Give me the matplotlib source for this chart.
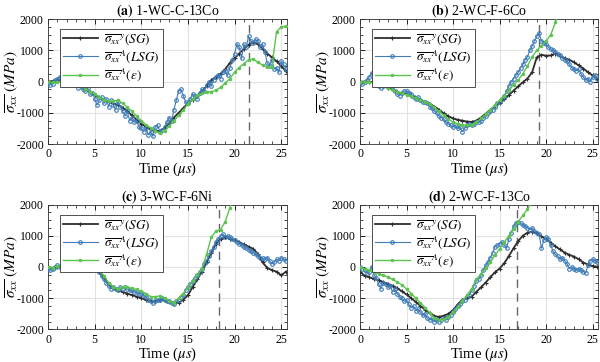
import numpy as np
import matplotlib
matplotlib.use("Agg")
import matplotlib.pyplot as plt
from matplotlib.ticker import MultipleLocator

plt.rcParams.update({
    "font.family": "serif",
    "font.serif": ["Liberation Serif", "DejaVu Serif"],
    "mathtext.fontset": "stix",
    "axes.unicode_minus": False,
    "font.size": 9,
})

# sampling times (us)
T_HALF = [0.0, 0.5, 1.0, 1.5, 2.0, 2.5, 3.0, 3.5, 4.0, 4.5, 5.0, 5.5, 6.0, 6.5,
          7.0, 7.5, 8.0, 8.5, 9.0, 9.5, 10.0, 10.5, 11.0, 11.5, 12.0, 12.5,
          13.0, 13.5, 14.0, 14.5, 15.0, 15.5, 16.0, 16.5, 17.0, 17.5, 18.0,
          18.5, 19.0, 19.5, 20.0, 20.5, 21.0, 21.5, 22.0, 22.5, 23.0, 23.5,
          24.0, 24.5, 25.0, 25.5]
T_QUARTER = [0.0, 0.25, 0.5, 0.75, 1.0, 1.25, 1.5, 1.75, 2.0, 2.25, 2.5, 2.75,
             3.0, 3.25, 3.5, 3.75, 4.0, 4.25, 4.5, 4.75, 5.0, 5.25, 5.5, 5.75,
             6.0, 6.25, 6.5, 6.75, 7.0, 7.25, 7.5, 7.75, 8.0, 8.25, 8.5, 8.75,
             9.0, 9.25, 9.5, 9.75, 10.0, 10.25, 10.5, 10.75, 11.0, 11.25, 11.5,
             11.75, 12.0, 12.25, 12.5, 12.75, 13.0, 13.25, 13.5, 13.75, 14.0,
             14.25, 14.5, 14.75, 15.0, 15.25, 15.5, 15.75, 16.0, 16.25, 16.5,
             16.75, 17.0, 17.25, 17.5, 17.75, 18.0, 18.25, 18.5, 18.75, 19.0,
             19.25, 19.5, 19.75, 20.0, 20.25, 20.5, 20.75, 21.0, 21.25, 21.5,
             21.75, 22.0, 22.25, 22.5, 22.75, 23.0, 23.25, 23.5, 23.75, 24.0,
             24.25, 24.5, 24.75, 25.0, 25.25, 25.5]

# (a) 1-WC-C-13Co
BLACK_A = [0, 20, 40, 50, 40, 0, -60, -150, -250, -330, -420, -500, -580, -650,
           -700, -750, -830, -950, -1080, -1220, -1350, -1450, -1530, -1570,
           -1580, -1480, -1330, -1150, -1000, -850, -700, -580, -450, -300,
           -150, 50, 150, 250, 400, 600, 750, 900, 1050, 1180, 1260, 1200,
           1050, 900, 780, 650, 500, 330]
GREEN_A = [0, -20, -20, 0, -10, -30, -80, -150, -230, -320, -400, -500, -580,
           -630, -620, -600, -700, -820, -950, -1100, -1250, -1380, -1480,
           -1580, -1650, -1580, -1420, -1250, -1080, -900, -720, -560, -440,
           -380, -330, -320, -280, -180, -50, 100, 300, 450, 580, 700, 720,
           620, 530, 460, 480, 1600, 1750, 1780]
BLUE_A = [-50, -100, -80, 50, 100, 150, 50, -100, 100, 180, 120, 50,
          -100, -200, -100, -250, -300, -200, -400, -350, -550, -750, -600, -500,
          -700, -550, -800, -600, -750, -900, -650, -800, -950, -1100, -950, -1250,
          -1150, -1300, -1250, -1450, -1500, -1600, -1500, -1700,
          -1600, -1750, -1450, -1400, -1600, -1550, -1450, -1300,
          -1150, -1250, -900, -600, -300, -250, -450, -650, -700, -550, -400, -450,
          -550, -350, -250, -300, -100, 0, -150, 50, 150, 200, 100, 300,
          350, 200, 450, 700, 900, 1200, 1100, 750, 1200, 1100, 1450, 1300,
          1250, 1350, 1300, 1100, 1200, 950, 600, 500, 700, 400, 450, 300,
          650, 550, 400]

# (b) 2-WC-F-6Co
BLACK_B = [0, 0, 0, -20, -60, -120, -190, -260, -330, -370, -400, -450, -510,
           -580, -650, -720, -800, -900, -1020, -1110, -1180, -1220, -1250,
           -1280, -1290, -1250, -1150, -1030, -900, -780, -680, -570, -430,
           -290, -150, -20, 100, 300, 780, 860, 830, 840, 900, 820, 750, 700,
           620, 520, 420, 300, 200, 100]
GREEN_B = [0, -20, 0, -60, -100, -150, -200, -270, -330, -380, -420, -470,
           -520, -580, -640, -720, -820, -950, -1080, -1200, -1300, -1350,
           -1380, -1400, -1380, -1300, -1180, -1050, -900, -750, -600, -450,
           -280, -100, 50, 250, 500, 800, 1000, 1150, 1300, 1500, 1900, 2300]
BLUE_B = [-50, -80, -20, 50, 150, 280, 150, -50, -150, -200, -150, -50,
          50, -50, -150, -300, -400, -450, -350, -300, -300, -350, -400, -500,
          -550, -500, -600, -650, -650, -700, -800, -850, -950, -1000, -1100, -1150,
          -1200, -1300, -1350, -1400, -1450, -1400, -1500, -1450,
          -1600, -1500, -1400, -1350, -1400, -1350, -1300, -1300,
          -1250, -1150, -1100, -1000, -950, -900, -800, -700, -650, -550, -450, -300,
          -150, 0, 100, 200, 300, 450, 550, 700, 800, 1000, 1150, 1300,
          1450, 1550, 1300, 1250, 1200, 1100, 1050, 1000, 950, 900, 850, 750,
          700, 650, 550, 450, 400, 350, 400, 250, 150, 50, 100, 0,
          150, 200, 100]

# (c) 3-WC-F-6Ni
BLACK_C = [0, -30, 0, 30, 20, 10, 20, 10, 20, 30, 20, -150, -350, -550, -680,
           -750, -800, -850, -900, -950, -1000, -1050, -1100, -1100, -1050,
           -1070, -1120, -1150, -1150, -1050, -900, -650, -400, -150, 150, 450,
           750, 900, 950, 900, 850, 800, 720, 650, 580, 420, 150, -30, -100,
           -150, -270, -150]
GREEN_C = [0, -20, 30, 60, 20, 30, 40, 20, 30, 40, 50, -100, -300, -500, -650,
           -700, -650, -650, -680, -720, -780, -850, -950, -950, -930, -1000,
           -1100, -1150, -1000, -850, -650, -450, -250, -50, 400, 950, 1150,
           1200, 1450, 1900, 2300]
BLUE_C = [-50, -100, -50, 0, 50, 0, 100, 80, 20, 0, 50, 30,
          60, 20, 40, 30, 50, 20, 30, 60, 50, 0, -150, -300,
          -400, -500, -600, -700, -650, -700, -750, -650, -700, -650, -700, -750,
          -750, -800, -800, -850, -850, -900, -950, -1050,
          -1100, -1150, -1100, -1050, -1050, -1000, -1050, -1100,
          -1100, -1150, -1200, -1100, -1050, -950, -900, -750,
          -650, -550, -450, -350, -250, -150, -50, 100, 200, 350, 500, 650,
          800, 900, 1000, 1050, 950, 1000, 950, 900, 850, 800, 750, 700,
          650, 600, 550, 500, 450, 400, 350, 300, 280, 250, 300, 200,
          100, 150, 250, 200, 300, 250, 200]

# (d) 2-WC-F-13Co
BLACK_D = [-150, -280, -330, -380, -430, -480, -540, -600, -680, -780, -880,
           -1000, -1120, -1250, -1370, -1480, -1570, -1600, -1560, -1500,
           -1380, -1200, -1050, -1000, -950, -800, -650, -500, -330, -170, -50,
           120, 350, 600, 830, 1000, 1100, 1130, 1080, 980, 880, 780, 660, 560,
           460, 390, 330, 250, 140, 80, 30, 10]
GREEN_D = [0, -50, -100, -150, -220, -270, -320, -400, -480, -580, -700, -850,
           -1000, -1150, -1300, -1470, -1620, -1700, -1680, -1600, -1450,
           -1280, -1100, -900, -700, -400, -230, -30, 170, 370, 580, 790, 1000,
           1230, 1450, 1650, 1850, 2100]
BLUE_D = [0, -50, -100, -200, -150, 0, -250, -350, -550, -700, -500, -550,
          -650, -600, -800, -700, -850, -950, -1000, -1100,
          -1050, -1200, -1300, -1250, -1400, -1350, -1450, -1550,
          -1500, -1650, -1700, -1650, -1750, -1700, -1750, -1700,
          -1650, -1700, -1600, -1550, -1450, -1350, -1250, -1200,
          -1100, -1050, -950, -900, -750, -600, -450, -400, -250, -100, 50, 150,
          300, 450, 650, 700, 750, 800, 700, 600, 900, 1100, 1300, 1400,
          1450, 1400, 1350, 1300, 1250, 1200, 1250, 1150, 1100, 1050, 600, 850,
          950, 900, 700, 500, 400, 350, 250, 300, 200, 100, -50, 0,
          -50, -100, -50, -100, -150, -200, 50, 200, 250, 200, 150]

PANELS = [
    ("(a)", "1-WC-C-13Co", BLACK_A, BLUE_A, GREEN_A, 21.5),
    ("(b)", "2-WC-F-6Co", BLACK_B, BLUE_B, GREEN_B, 19.2),
    ("(c)", "3-WC-F-6Ni", BLACK_C, BLUE_C, GREEN_C, 18.3),
    ("(d)", "2-WC-F-13Co", BLACK_D, BLUE_D, GREEN_D, 16.9),
]

# axes boxes in figure fraction (left, bottom, width, height)
BOXES = [(0.080, 0.602, 0.398, 0.345), (0.600, 0.602, 0.397, 0.345),
         (0.080, 0.090, 0.398, 0.345), (0.600, 0.090, 0.397, 0.345)]

black_c = "#2e2e2e"
blue_c = "#3f7cb8"
green_c = "#5cc44e"


def series(t, y):
    n = min(len(t), len(y))
    return np.array(t[:n]), np.array(y[:n])


fig = plt.figure(figsize=(6.0, 3.62), dpi=100)

for (tag, name, yb, yl, yg, tcrit), box in zip(PANELS, BOXES):
    ax = fig.add_axes(box)

    tb, vb = series(T_HALF, yb)
    tl, vl = series(T_QUARTER, yl)
    tg, vg = series(T_HALF, yg)

    ax.plot(tb, vb, color=black_c, lw=1.3, marker="+", ms=3.5, mew=0.8,
            label=r"$\overline{\sigma_{xx}}^{y}(SG)$", zorder=3)
    ax.plot(tl, vl, color=blue_c, lw=0.8, marker="o", ms=2.6, mew=0.8,
            mfc="none", label=r"$\overline{\sigma_{xx}}^{A}(LSG)$", zorder=4)
    ax.plot(tg, vg, color=green_c, lw=1.0, marker=".", ms=3,
            label=r"$\overline{\sigma_{xx}}^{A}(\epsilon)$", zorder=5)

    ax.axvline(tcrit, color="#666666", lw=1.0, ls=(0, (6, 4)), zorder=2)

    ax.set_xlim(0, 25.6)
    ax.set_ylim(-2000, 2000)
    ax.xaxis.set_major_locator(MultipleLocator(5))
    ax.xaxis.set_minor_locator(MultipleLocator(1))
    ax.yaxis.set_major_locator(MultipleLocator(1000))
    ax.yaxis.set_minor_locator(MultipleLocator(250))
    ax.tick_params(which="both", direction="in", top=True, right=True,
                   labelsize=8.5, pad=3)
    ax.tick_params(which="major", length=3.5, width=0.6)
    ax.tick_params(which="minor", length=2, width=0.5)
    ax.grid(True, which="major", color="#e3e3e3", lw=0.8, zorder=0)
    for sp in ax.spines.values():
        sp.set_linewidth(0.6)
        sp.set_color("#333333")

    ax.set_title(r"$\mathbf{" + tag + "}$ " + name, fontsize=10, pad=3)
    ax.set_xlabel(r"Time ($\mu s$)", fontsize=10.5, labelpad=0)
    ax.set_ylabel(r"$\overline{\sigma_{xx}}$ $(MPa)$", fontsize=11)
    ax.yaxis.set_label_coords(-0.118, 0.5)

    leg = ax.legend(loc="upper left", bbox_to_anchor=(0.05, 0.92), fontsize=9.5,
                    frameon=True, fancybox=False, framealpha=1,
                    edgecolor="#333333", handlelength=2.6, borderpad=0.25,
                    labelspacing=0.1, handletextpad=0.5, borderaxespad=0)
    leg.get_frame().set_linewidth(0.6)

fig.savefig("out.png", dpi=100)
